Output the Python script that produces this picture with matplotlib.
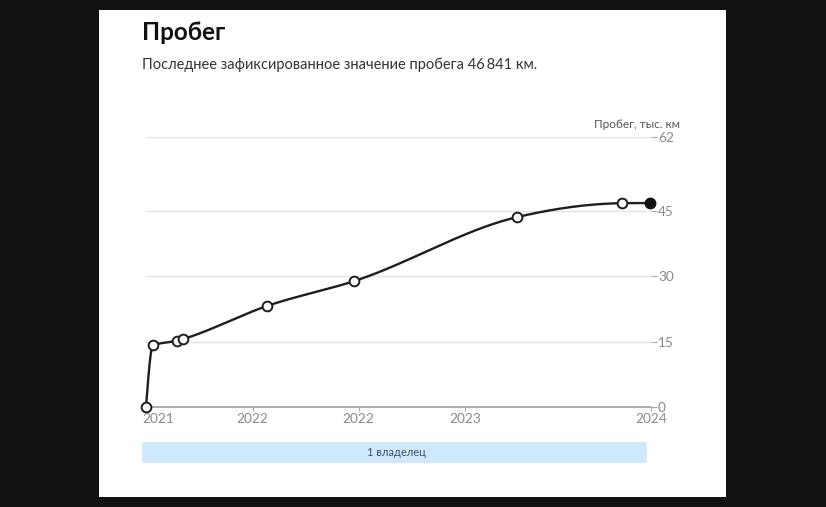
import numpy as np
import matplotlib
matplotlib.use('Agg')
import matplotlib.pyplot as plt
from matplotlib.patches import FancyBboxPatch

# data (x in relative time units, y in thousand km)
x_pos = [0, 7, 31, 37, 121, 208, 371, 476, 504]
mileage = [0, 14.2, 15.2, 15.6, 23.2, 28.9, 43.6, 46.8, 46.841]
tick_pos = [12, 106.7, 212.7, 319, 505]
tick_labels = ['2021', '2022', '2022', '2023', '2024']
y_ticks = [0, 15, 30, 45, 62]

plt.rcParams['font.family'] = ['Lato', 'DejaVu Sans']


def monotone_curve(x, y, n=40):
  # d3 curveMonotoneX style smoothing
  x = np.asarray(x, float)
  y = np.asarray(y, float)
  h = np.diff(x)
  s = np.diff(y) / h
  t = np.zeros(len(x))
  for k in range(1, len(x) - 1):
    p = (s[k-1]*h[k] + s[k]*h[k-1]) / (h[k-1] + h[k])
    t[k] = (np.sign(s[k-1]) + np.sign(s[k])) * min(abs(s[k-1]), abs(s[k]), 0.5*abs(p))
  t[0] = (3*s[0] - t[1]) / 2
  t[-1] = (3*s[-1] - t[-2]) / 2
  xs, ys = [], []
  for k in range(len(x) - 1):
    u = np.linspace(0, 1, n)
    h00 = 2*u**3 - 3*u**2 + 1
    h10 = u**3 - 2*u**2 + u
    h01 = -2*u**3 + 3*u**2
    h11 = u**3 - u**2
    xs.append(x[k] + u*h[k])
    ys.append(h00*y[k] + h10*h[k]*t[k] + h01*y[k+1] + h11*h[k]*t[k+1])
  return np.concatenate(xs), np.concatenate(ys)


W, H = 826, 507
fig = plt.figure(figsize=(W/100, H/100), dpi=100, facecolor='#111111')

# white card behind everything, in pixel coords
bg = fig.add_axes([99/W, 1-497/H, 627/W, 487/H], zorder=0)
bg.set_facecolor('white')
bg.set_xticks([])
bg.set_yticks([])
for sp in bg.spines.values():
  sp.set_visible(False)
bg.set_xlim(99, 726)
bg.set_ylim(497, 10)

ax = fig.add_axes([146/W, 1-407/H, 505/W, 270/H], zorder=2)
ax.set_facecolor('none')
ax.set_xlim(0, 505)
ax.set_ylim(0, 62)
for sp in ax.spines.values():
  sp.set_visible(False)

for v in y_ticks[1:]:
  ax.axhline(v, color='#e3e3e3', lw=1, zorder=1)
ax.axhline(0, color='#a8a8a8', lw=1.3, zorder=1, clip_on=False)

cx, cy = monotone_curve(x_pos, mileage)
ax.plot(cx, cy, color='#1e1e1e', lw=1.7, zorder=3, clip_on=False)
ax.plot(x_pos[:-1], mileage[:-1], 'o', ms=7, mfc='white', mec='#1e1e1e', mew=1.4,
        zorder=4, clip_on=False)
ax.plot(x_pos[-1:], mileage[-1:], 'o', ms=7.5, mfc='#111111', mec='#111111',
        zorder=4, clip_on=False)

ax.yaxis.tick_right()
ax.set_yticks(y_ticks)
ax.set_yticklabels([str(v) for v in y_ticks])
ax.tick_params(axis='y', length=4, width=0.8, color='#aaaaaa', labelcolor='#8a8a8a',
               labelsize=9.8, pad=1)
ax.set_xticks(tick_pos)
ax.set_xticklabels(tick_labels)
ax.tick_params(axis='x', length=3, width=0.8, color='#aaaaaa', labelcolor='#8a8a8a',
               labelsize=9.8, pad=1)
ax.xaxis.get_major_ticks()[0].tick1line.set_visible(False)

bg.text(142, 33, 'Пробег', fontsize=17.5, fontweight='bold', color='#111111',
        va='center', ha='left')
bg.text(142, 65, 'Последнее зафиксированное значение пробега 46\u2009841 км.',
        fontsize=10.5, color='#333333', va='center', ha='left')
bg.text(680, 125, 'Пробег, тыс. км', fontsize=8.5, color='#555555',
        va='center', ha='right')

band = FancyBboxPatch((142, 442), 505, 21, boxstyle='round,pad=0,rounding_size=3',
                      facecolor='#cde9fb', edgecolor='none')
bg.add_patch(band)
bg.text(396, 452, '1 владелец', fontsize=8, color='#3d5466', va='center', ha='center')

fig.savefig('out.png', dpi=100, facecolor=fig.get_facecolor())
